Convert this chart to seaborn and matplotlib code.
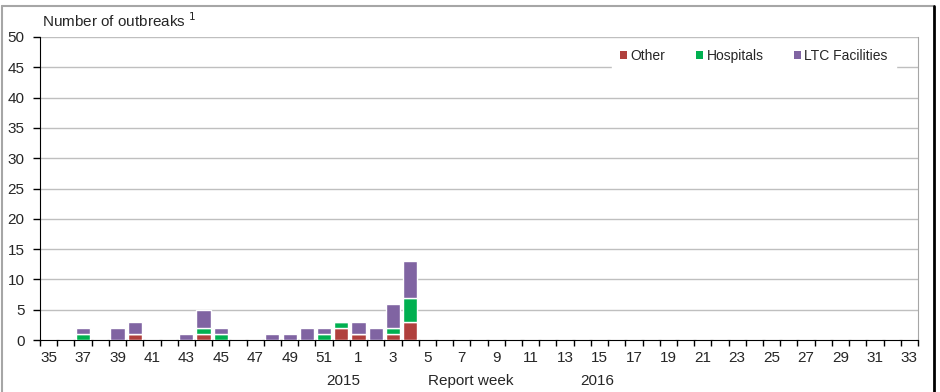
import matplotlib
matplotlib.use("Agg")
import matplotlib.pyplot as plt
from matplotlib.lines import Line2D
from matplotlib.patches import Patch
import seaborn as sns
import numpy as np

weeks = [str(w) for w in range(35, 53)] + [str(w) for w in range(1, 34)]

# weeks 35..52 (2015), 1..4 (2016); remaining 2016 weeks are zero
other = [0, 0, 0, 0, 0, 1, 0, 0, 0, 1, 0, 0, 0, 0, 0, 0, 0, 2,
         1, 0, 1, 3] + [0] * 29
hospitals = [0, 0, 1, 0, 0, 0, 0, 0, 0, 1, 1, 0, 0, 0, 0, 0, 1, 1,
             0, 0, 1, 4] + [0] * 29
ltc = [0, 0, 1, 0, 2, 2, 0, 0, 1, 3, 1, 0, 0, 1, 1, 2, 1, 0,
       2, 2, 4, 6] + [0] * 29

colors = {"Other": "#B0403D", "Hospitals": "#00B050", "LTC Facilities": "#8064A2"}

sns.set_style("white")
plt.rcParams["font.family"] = ["Liberation Sans", "DejaVu Sans"]

fig = plt.figure(figsize=(9.4, 3.92), dpi=100)
ax = fig.add_axes([40 / 940, 1 - 340 / 392, 878 / 940, 303 / 392])

other_a = np.array(other)
hosp_a = np.array(hospitals)
ltc_a = np.array(ltc)

sns.barplot(x=weeks, y=other_a, order=weeks, color=colors["Other"],
            width=0.82, saturation=1, ax=ax, zorder=3)
sns.barplot(x=weeks, y=hosp_a, order=weeks, color=colors["Hospitals"],
            bottom=other_a, width=0.82, saturation=1, ax=ax, zorder=3)
sns.barplot(x=weeks, y=ltc_a, order=weeks, color=colors["LTC Facilities"],
            bottom=other_a + hosp_a, width=0.82, saturation=1, ax=ax, zorder=3)

ax.set_xlim(-0.5, len(weeks) - 0.5)
ax.set_ylim(0, 50)
ax.set_yticks(range(0, 51, 5))
ax.yaxis.grid(True, color="#BFBFBF", linewidth=1)
ax.set_axisbelow(True)
ax.tick_params(axis="y", left=True, length=5, width=1, color="black",
               labelsize=11, pad=6)

ax.set_xticks(range(len(weeks)))
ax.set_xticklabels([w if i % 2 == 0 else "" for i, w in enumerate(weeks)])
ax.set_xticks(np.arange(-0.5, len(weeks)), minor=True)
ax.tick_params(axis="x", which="major", length=0, labelsize=11, pad=8)
ax.tick_params(axis="x", which="minor", bottom=True, length=4, width=1,
               color="black")
ax.set_xlabel("")
ax.set_ylabel("")

ax.spines["top"].set_visible(False)
ax.spines["right"].set_color("#A6A6A6")
ax.spines["left"].set_color("black")
ax.spines["bottom"].set_color("black")

trans = ax.get_xaxis_transform()
ax.text(17.1, -0.135, "2015", transform=trans, ha="center", va="center", fontsize=11)
ax.text(24.5, -0.135, "Report week", transform=trans, ha="center", va="center", fontsize=11)
ax.text(31.85, -0.135, "2016", transform=trans, ha="center", va="center", fontsize=11)

fig.text(42 / 940, 1 - 21 / 392, "Number of outbreaks $^1$", fontsize=11,
         ha="left", va="center")

handles = [Patch(facecolor=c, edgecolor="none", label=k) for k, c in colors.items()]
leg = ax.legend(handles=handles, ncol=3, loc="upper right",
                bbox_to_anchor=(0.983, 1.012), frameon=True, fontsize=10,
                handlelength=0.5, handleheight=0.5, handletextpad=0.25,
                columnspacing=2.2, borderpad=0.6)
leg.get_frame().set_facecolor("white")
leg.get_frame().set_edgecolor("white")
leg.get_frame().set_alpha(1)

fig.add_artist(Line2D([2 / 940, 934 / 940], [1 - 6 / 392] * 2, color="#A6A6A6", lw=1.5))
fig.add_artist(Line2D([2 / 940] * 2, [0, 1 - 6 / 392], color="#A6A6A6", lw=1.5))
fig.add_artist(Line2D([934 / 940] * 2, [0, 1 - 6 / 392], color="black", lw=2))

fig.savefig("out.png", dpi=100)
